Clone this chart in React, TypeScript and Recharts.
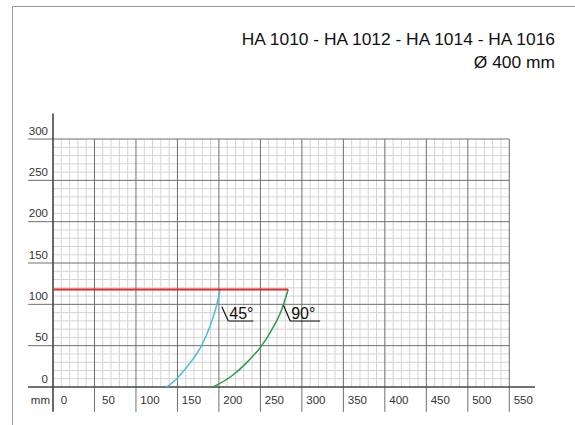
import React from 'react';
import { LineChart, Line, XAxis, YAxis, ReferenceLine } from 'recharts';

const TITLE = 'HA 1010 - HA 1012 - HA 1014 - HA 1016';
const SUBTITLE = 'Ø 400 mm';
const Y_UNIT = 'mm';
const X_TICKS = [0, 50, 100, 150, 200, 250, 300, 350, 400, 450, 500, 550];
const Y_TICKS = [0, 50, 100, 150, 200, 250, 300];
const MINOR_STEP = 10;

const CURVE_45 = [
  { x: 137, y: 0 },
  { x: 150, y: 11 },
  { x: 165, y: 29 },
  { x: 179, y: 50 },
  { x: 189, y: 73 },
  { x: 197.5, y: 100 },
  { x: 201.5, y: 118 },
];
const CURVE_90 = [
  { x: 193, y: 0 },
  { x: 215, y: 13 },
  { x: 235, y: 31 },
  { x: 250, y: 48 },
  { x: 263, y: 68 },
  { x: 275, y: 92 },
  { x: 283.5, y: 118 },
];
const LIMIT_LINE = [
  { x: 0, y: 118 },
  { x: 283.5, y: 118 },
];
const LABEL_45 = { text: '45°', from: { x: 203.5, y: 97 }, to: { x: 211.3, y: 79.8 }, end: 241.5 };
const LABEL_90 = { text: '90°', from: { x: 277.8, y: 99 }, to: { x: 285.9, y: 79.8 }, end: 322 };

const FONT = '"Liberation Sans", Arial, sans-serif';
const X_MAX = 550;
const Y_MAX = 300;
const OUT = -30;

const minorX: number[] = [];
for (let v = 0; v <= X_MAX; v += MINOR_STEP) if (v % 50 !== 0) minorX.push(v);
const minorY: number[] = [];
for (let v = 0; v <= Y_MAX; v += MINOR_STEP) if (v % 50 !== 0) minorY.push(v);

const XTick = (props: any) => {
  const { x, y, payload } = props;
  const dx = payload.value === 0 ? 11 : 14;
  return (
    <text x={x + dx} y={y + 17} textAnchor="middle" fontSize={11.5} fill="#333" fontFamily={FONT}>
      {payload.value}
    </text>
  );
};

const YTick = (props: any) => {
  const { x, y, payload } = props;
  return (
    <g>
      <text x={x - 5} y={y - 4.5} textAnchor="end" fontSize={11.5} fill="#333" fontFamily={FONT}>
        {payload.value}
      </text>
      {payload.value === 0 ? (
        <text x={x - 3} y={y + 16.5} textAnchor="end" fontSize={11.5} fill="#333" fontFamily={FONT}>
          {Y_UNIT}
        </text>
      ) : null}
    </g>
  );
};

const angleLabel = (text: string) => (p: any) => {
  const vb = p.viewBox || {};
  return (
    <text x={vb.x + 1} y={vb.y - 2} fontSize={16} fill="#111" fontFamily={FONT}>
      {text}
    </text>
  );
};

export default function App() {
  return (
    <div style={{ position: 'absolute', left: 0, top: 0, width: 575, height: 425, background: '#fff' }}>
      <LineChart
        width={575}
        height={425}
        margin={{ top: 113.4, right: 40, bottom: 13, left: 13 }}
      >
        <XAxis
          type="number"
          dataKey="x"
          domain={[0, 581]}
          ticks={X_TICKS}
          allowDataOverflow
          axisLine={false}
          tickLine={false}
          tickSize={0}
          tickMargin={0}
          height={25}
          tick={<XTick />}
          interval={0}
        />
        <YAxis
          type="number"
          dataKey="y"
          domain={[0, 331]}
          ticks={Y_TICKS}
          allowDataOverflow
          axisLine={false}
          tickLine={false}
          tickSize={0}
          tickMargin={0}
          width={40}
          tick={<YTick />}
          interval={0}
        />
        {minorY.map((v) => (
          <ReferenceLine key={'my' + v} segment={[{ x: 0, y: v }, { x: X_MAX, y: v }]} stroke="#d4d4d4" strokeWidth={1} ifOverflow="visible" />
        ))}
        {minorX.map((v) => (
          <ReferenceLine key={'mx' + v} segment={[{ x: v, y: 0 }, { x: v, y: Y_MAX }]} stroke="#d4d4d4" strokeWidth={1} ifOverflow="visible" />
        ))}
        {Y_TICKS.filter((v) => v > 0).map((v) => (
          <ReferenceLine key={'My' + v} segment={[{ x: OUT, y: v }, { x: X_MAX, y: v }]} stroke="#6e6e6e" strokeWidth={1} ifOverflow="visible" />
        ))}
        {X_TICKS.filter((v) => v > 0).map((v) => (
          <ReferenceLine key={'Mx' + v} segment={[{ x: v, y: OUT }, { x: v, y: Y_MAX }]} stroke="#6e6e6e" strokeWidth={1} ifOverflow="visible" />
        ))}
        <ReferenceLine segment={[{ x: OUT, y: 0 }, { x: 581, y: 0 }]} stroke="#444" strokeWidth={1.6} ifOverflow="visible" />
        <ReferenceLine segment={[{ x: 0, y: OUT }, { x: 0, y: 331 }]} stroke="#444" strokeWidth={1.6} ifOverflow="visible" />
        <Line data={CURVE_45} dataKey="y" type="monotone" stroke="#4bbce4" strokeWidth={1.5} dot={false} isAnimationActive={false} />
        <Line data={CURVE_90} dataKey="y" type="monotone" stroke="#2e9a4c" strokeWidth={1.5} dot={false} isAnimationActive={false} />
        <Line data={LIMIT_LINE} dataKey="y" type="linear" stroke="#e3262a" strokeWidth={2} dot={false} isAnimationActive={false} />
        {[LABEL_45, LABEL_90].map((l) => (
          <ReferenceLine key={'lead' + l.text} segment={[l.from, l.to]} stroke="#111" strokeWidth={1.2} ifOverflow="visible" />
        ))}
        {[LABEL_45, LABEL_90].map((l) => (
          <ReferenceLine
            key={'ul' + l.text}
            segment={[{ x: l.to.x, y: l.to.y }, { x: l.end, y: l.to.y }]}
            stroke="#111"
            strokeWidth={1}
            ifOverflow="visible"
            label={{ content: angleLabel(l.text) }}
          />
        ))}
      </LineChart>
      <svg
        width={575}
        height={425}
        style={{ position: 'absolute', left: 0, top: 0, pointerEvents: 'none' }}
      >
        <line x1={12.5} y1={6.5} x2={575} y2={6.5} stroke="#9a9a9a" strokeWidth={1} />
        <line x1={12.5} y1={6.5} x2={12.5} y2={425} stroke="#9a9a9a" strokeWidth={1} />
        <text x={555} y={45} textAnchor="end" fontSize={17.4} fill="#111" fontFamily={FONT}>
          {TITLE}
        </text>
        <text x={555} y={68} textAnchor="end" fontSize={17.4} fill="#111" fontFamily={FONT}>
          {SUBTITLE}
        </text>
      </svg>
    </div>
  );
}
